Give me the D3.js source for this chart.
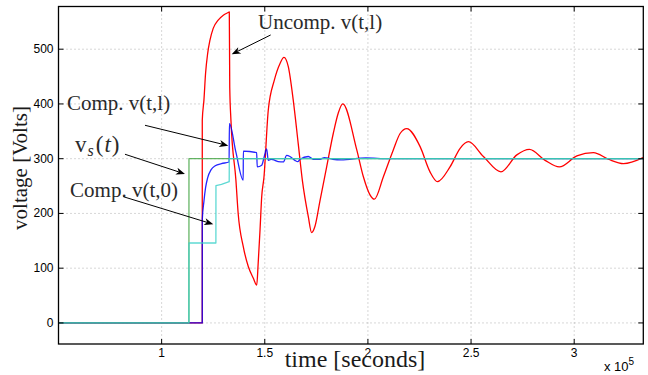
<!DOCTYPE html>
<html lang="en">
<head>
<meta charset="UTF-8">
<title>Line voltage response</title>
<script src="https://d3js.org/d3.v7.min.js"></script>
<style>
    body { margin: 0; background: #fff; }
    .tick_text { font-family: "Liberation Sans", Arial, sans-serif; font-size: 12px; fill: #000; }
    .axis_label { font-family: "Liberation Serif", "Times New Roman", serif; font-size: 21px; fill: #1a1a1a; }
    .note { font-family: "Liberation Serif", "Times New Roman", serif; font-size: 21px; fill: #2a2a2a; }
</style>
</head>
<body>
<svg width="648" height="375"></svg>

<script>
    // time in units of 1e5 s, voltage in volts
    const xTicks = [1, 1.5, 2, 2.5, 3];
    const yTicks = [0, 100, 200, 300, 400, 500];

    // source voltage v_s(t)
    const sourceV = [[0.5, 0], [1.1322, 0], [1.1325, 300], [3.34, 300]];

    // compensated v(t,0)
    const compStart = [[0.5, 0], [1.1322, 0], [1.1325, 146], [1.263, 146], [1.2633, 251],
        [1.29, 253], [1.3275, 258], [1.328, 300], [3.34, 300]];

    // compensated v(t,l)
    const compEnd = [[0.5, 0], [1.1969, 0], [1.197, 188], [1.205, 222], [1.213, 247], [1.223, 265],
        [1.24, 280], [1.26, 287], [1.29, 291], [1.327, 294], [1.3285, 364], [1.36, 312],
        [1.3955, 261], [1.396, 314], [1.4605, 311], [1.4636, 285], [1.485, 288], [1.4976, 304],
        [1.509, 318], [1.517, 297], [1.533, 299], [1.549, 297], [1.565, 294.5], [1.59, 294],
        [1.606, 306], [1.622, 304], [1.646, 297], [1.66, 294.5], [1.671, 299], [1.711, 304],
        [1.735, 299], [1.768, 299], [1.789, 302], [1.83, 299], [1.87, 298], [1.99, 301.5],
        [2.1, 300], [3.34, 300]];

    // uncompensated v(t,l)
    const uncompEnd = [[0.5, 0], [1.1969, 0], [1.197, 370], [1.205, 407], [1.213, 456], [1.223, 492],
        [1.234, 516], [1.25, 538], [1.274, 553], [1.299, 562], [1.323, 567], [1.328, 568],
        [1.3302, 430], [1.336, 370], [1.36, 261], [1.371, 200], [1.396, 139], [1.42, 103],
        [1.444, 82], [1.461, 69], [1.468, 109], [1.477, 170], [1.485, 230], [1.496, 266],
        [1.517, 389], [1.546, 443], [1.574, 474], [1.593, 485], [1.614, 468], [1.638, 407],
        [1.662, 328], [1.683, 258], [1.711, 194], [1.727, 165], [1.743, 176], [1.768, 224],
        [1.8, 285], [1.832, 346], [1.856, 383], [1.878, 400], [1.946, 316], [1.978, 267],
        [2.01, 234], [2.031, 226], [2.075, 267], [2.123, 316], [2.156, 346], [2.188, 355],
        [2.253, 322], [2.301, 276], [2.337, 258], [2.398, 285], [2.447, 319], [2.487, 331],
        [2.56, 304], [2.645, 276], [2.722, 307], [2.783, 317], [2.859, 297], [2.928, 285],
        [3.013, 305], [3.093, 311], [3.166, 299], [3.239, 291], [3.334, 302]];

    // annotations: text anchor and arrow (from, to) in data units
    const notes = [
        {text: "Uncomp. v(t,l)", at: [1.467, 536], from: [1.5286, 526], to: [1.3396, 490.7]},
        {text: "Comp. v(t,l)", at: [0.541, 389], from: [0.9193, 361], to: [1.3231, 323.8]},
        {text: "vs", at: [0.580, 312], from: [0.8223, 308.1], to: [1.1132, 272.1]},
        {text: "Comp. v(t,0)", at: [0.556, 230], from: [0.8141, 230.6], to: [1.2504, 180.2]}
    ];

    let svg = d3.select("svg");
    const mLeft = 58.5, mRight = 643.3, mTop = 6.5, mBottom = 344;

    let x = d3.scaleLinear().domain([0.5, 3.335]).range([mLeft, mRight]);
    let y = d3.scaleLinear().domain([-38.5, 578]).range([mBottom, mTop]);

    svg.append("defs").append("clipPath").attr("id", "plot_area")
        .append("rect").attr("x", mLeft).attr("y", mTop)
        .attr("width", mRight - mLeft).attr("height", mBottom - mTop);

    // grid
    let grid = svg.append("g").attr("stroke", "#9a9a9a").attr("stroke-width", 0.8)
        .attr("stroke-dasharray", "1,3");
    grid.selectAll(".gx").data(xTicks).enter().append("line")
        .attr("x1", d => x(d)).attr("x2", d => x(d)).attr("y1", mTop).attr("y2", mBottom);
    grid.selectAll(".gy").data(yTicks).enter().append("line")
        .attr("x1", mLeft).attr("x2", mRight).attr("y1", d => y(d)).attr("y2", d => y(d));

    // series
    const lineSmooth = d3.line().x(d => x(d[0])).y(d => y(d[1])).curve(d3.curveMonotoneX);
    const lineStep = d3.line().x(d => x(d[0])).y(d => y(d[1]));

    let plot = svg.append("g").attr("clip-path", "url(#plot_area)").attr("fill", "none")
        .attr("stroke-width", 1.3).attr("stroke-linejoin", "round");
    plot.append("path").attr("d", lineSmooth(uncompEnd)).attr("stroke", "#ff0000");
    plot.append("path").attr("d", lineSmooth(compEnd)).attr("stroke", "#0000ff").attr("stroke-opacity", 0.85);
    plot.append("path").attr("d", lineStep(sourceV)).attr("stroke", "#4aa84a").attr("stroke-opacity", 0.85);
    plot.append("path").attr("d", lineStep(compStart)).attr("stroke", "#36d0c8").attr("stroke-opacity", 0.8);

    // axes box and inward ticks
    svg.append("rect").attr("x", mLeft).attr("y", mTop)
        .attr("width", mRight - mLeft).attr("height", mBottom - mTop)
        .attr("fill", "none").attr("stroke", "#000").attr("stroke-width", 1.3);

    let ticks = svg.append("g").attr("stroke", "#000").attr("stroke-width", 1);
    xTicks.forEach(function (d) {
        ticks.append("line").attr("x1", x(d)).attr("x2", x(d)).attr("y1", mBottom).attr("y2", mBottom - 5);
        ticks.append("line").attr("x1", x(d)).attr("x2", x(d)).attr("y1", mTop).attr("y2", mTop + 5);
    });
    yTicks.forEach(function (d) {
        ticks.append("line").attr("x1", mLeft).attr("x2", mLeft + 5).attr("y1", y(d)).attr("y2", y(d));
        ticks.append("line").attr("x1", mRight).attr("x2", mRight - 5).attr("y1", y(d)).attr("y2", y(d));
    });

    svg.append("g").selectAll("text").data(xTicks).enter().append("text")
        .attr("class", "tick_text").attr("x", d => x(d)).attr("y", mBottom + 13)
        .attr("text-anchor", "middle").text(d => d);
    svg.append("g").selectAll("text").data(yTicks).enter().append("text")
        .attr("class", "tick_text").attr("x", mLeft - 5).attr("y", d => y(d) + 4)
        .attr("text-anchor", "end").text(d => d);

    let mult = svg.append("text").attr("class", "tick_text").attr("x", 604).attr("y", 371)
        .style("font-size", "13px");
    mult.append("tspan").text("x 10");
    mult.append("tspan").attr("dy", -6).style("font-size", "10px").text("5");

    svg.append("text").attr("class", "axis_label").attr("text-anchor", "middle")
        .attr("x", 355).attr("y", 367).style("font-size", "24px").text("time [seconds]");
    svg.append("text").attr("class", "axis_label").attr("text-anchor", "middle")
        .attr("transform", "translate(27,168) rotate(-90)")
        .text("voltage [Volts]");

    // annotations
    notes.forEach(function (n) {
        let t = svg.append("text").attr("class", "note").attr("x", x(n.at[0])).attr("y", y(n.at[1]));
        if (n.text === "vs") {
            t.style("font-size", "23px");
            t.append("tspan").text("v");
            t.append("tspan").attr("font-style", "italic").style("font-size", "16px").attr("dx", 1).attr("dy", 4).text("s");
            t.append("tspan").attr("dx", 2).attr("dy", -4).text("(");
            t.append("tspan").attr("font-style", "italic").attr("dx", 1).text("t");
            t.append("tspan").attr("dx", 1).text(")");
        } else {
            t.text(n.text);
        }
        let x0 = x(n.from[0]), y0 = y(n.from[1]), x1 = x(n.to[0]), y1 = y(n.to[1]);
        let ang = Math.atan2(y1 - y0, x1 - x0);
        let len = 9, half = 3.5, notch = 6.5;
        let bx = x1 - len * Math.cos(ang), by = y1 - len * Math.sin(ang);
        let nx = x1 - notch * Math.cos(ang), ny = y1 - notch * Math.sin(ang);
        svg.append("line").attr("x1", x0).attr("y1", y0).attr("x2", nx).attr("y2", ny)
            .attr("stroke", "#000").attr("stroke-width", 1);
        svg.append("path")
            .attr("d", "M" + x1 + "," + y1 +
                "L" + (bx + half * Math.sin(ang)) + "," + (by - half * Math.cos(ang)) +
                "L" + nx + "," + ny +
                "L" + (bx - half * Math.sin(ang)) + "," + (by + half * Math.cos(ang)) + "Z")
            .attr("fill", "#000");
    });
</script>
</body>
</html>
